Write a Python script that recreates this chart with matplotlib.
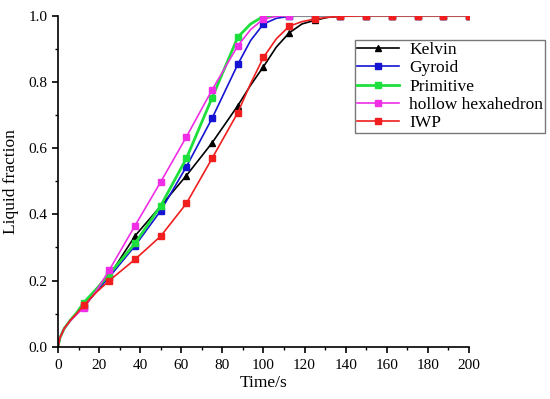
import matplotlib
matplotlib.use("Agg")
import matplotlib.pyplot as plt
import numpy as np

plt.rcParams['font.family'] = ['Liberation Serif', 'DejaVu Serif']

# time samples (s); markers are drawn at the multiples of 12.5 s
time = [0, 1, 3, 6, 9, 12.5, 18.75, 25, 37.5, 50, 62.5, 75, 87.5, 93.75, 100,
        106.25, 112.5, 118.75, 125, 131.25, 137.5, 150, 162.5, 175, 187.5, 200]

kelvin    = [0, 0.028, 0.055, 0.08, 0.1, 0.12, 0.168, 0.215, 0.335, 0.425, 0.517, 0.616, 0.728, 0.79, 0.846,
             0.905, 0.948, 0.975, 0.986, 0.995, 0.998, 1.0, 1.0, 1.0, 1.0, 1.0]
gyroid    = [0, 0.028, 0.055, 0.08, 0.1, 0.12, 0.168, 0.211, 0.305, 0.411, 0.544, 0.69, 0.853, 0.925, 0.975,
             0.992, 0.998, 1.0, 1.0, 1.0, 1.0, 1.0, 1.0, 1.0, 1.0, 1.0]
primitive = [0, 0.028, 0.055, 0.08, 0.102, 0.133, 0.175, 0.22, 0.312, 0.426, 0.569, 0.752, 0.935, 0.975, 0.998,
             1.0, 1.0, 1.0, 1.0, 1.0, 1.0, 1.0, 1.0, 1.0, 1.0, 1.0]
hollow    = [0, 0.028, 0.055, 0.078, 0.097, 0.118, 0.17, 0.232, 0.366, 0.498, 0.634, 0.776, 0.909, 0.958, 0.99,
             0.998, 1.0, 1.0, 1.0, 1.0, 1.0, 1.0, 1.0, 1.0, 1.0, 1.0]
iwp       = [0, 0.028, 0.055, 0.08, 0.1, 0.125, 0.165, 0.20, 0.264, 0.334, 0.433, 0.569, 0.707, 0.795, 0.874,
             0.93, 0.968, 0.982, 0.99, 0.995, 0.998, 1.0, 1.0, 1.0, 1.0, 1.0]

labels = ['Kelvin', 'Gyroid', 'Primitive', 'hollow hexahedron', 'IWP']
series = [kelvin, gyroid, primitive, hollow, iwp]
colors = ['#000000', '#1414D2', '#1EE03C', '#F02EE6', '#F01E1E']
markers = ['^', 's', 's', 's', 's']
lws = [1.2, 1.2, 2.0, 1.2, 1.2]

x_ticks = [0, 20, 40, 60, 80, 100, 120, 140, 160, 180, 200]
y_ticks = [0.0, 0.2, 0.4, 0.6, 0.8, 1.0]

fig = plt.figure(figsize=(5.5, 3.99), dpi=100)
ax = fig.add_axes([0.1055, 0.131, 0.747, 0.8297])

t = np.array(time)
mark_idx = [i for i, v in enumerate(time) if v > 0 and (v / 12.5) == int(v / 12.5)]
for lab, ys, c, m, lw in zip(labels, series, colors, markers, lws):
    ax.plot(t, ys, color=c, lw=lw, marker=m, markersize=3.8, markevery=mark_idx,
            label=lab)

ax.set_xlim(0, 200)
ax.set_ylim(0, 1.0)
ax.set_xticks(x_ticks)
ax.set_xticks(np.arange(10, 200, 20), minor=True)
ax.set_yticks(y_ticks)
ax.set_yticks(np.arange(0.1, 1.0, 0.2), minor=True)
ax.set_yticklabels([f'{v:.1f}' for v in y_ticks])
ax.spines['top'].set_visible(False)
ax.spines['right'].set_visible(False)
for s in ['left', 'bottom']:
    ax.spines[s].set_linewidth(1.2)
ax.tick_params(which='major', direction='out', length=4, width=1.2, labelsize=11)
ax.tick_params(which='major', axis='x', pad=5)
ax.tick_params(which='minor', direction='out', length=2.5, width=1.0)
ax.set_xlabel('Time/s', fontsize=12.5, labelpad=2)
ax.set_ylabel('Liquid fraction', fontsize=12.5, labelpad=7)

leg = fig.legend(loc='upper left', bbox_to_anchor=(0.6455, 0.8997), fontsize=12.5,
                 frameon=True, fancybox=False, handlelength=2.4, handletextpad=0.6,
                 labelspacing=0.12, borderpad=0.12, borderaxespad=0)
leg.get_frame().set_edgecolor('#555555')
leg.get_frame().set_linewidth(1.0)

fig.savefig('out.png', dpi=100)
